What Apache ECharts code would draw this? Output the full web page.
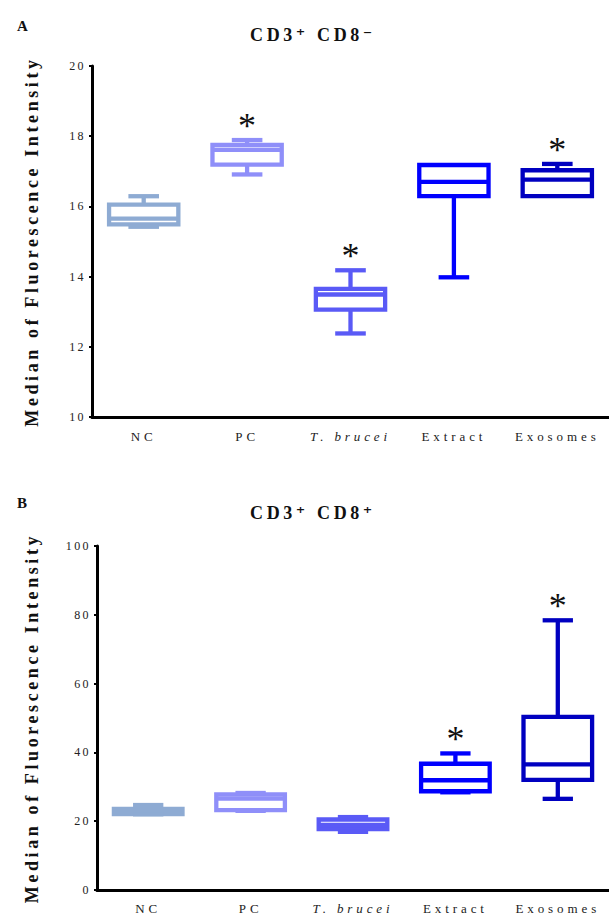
<!DOCTYPE html>
<html>
<head>
<meta charset="utf-8">
<script src="https://cdn.jsdelivr.net/npm/echarts@6/dist/echarts.min.js"></script>
<style>
  html, body { margin: 0; padding: 0; background: #fff; }
  #chart { width: 609px; height: 916px; }
  /* serif face with wide tracking, as in the typeset figure */
  #chart text { font-family: 'Liberation Serif', 'DejaVu Serif', serif !important; letter-spacing: 0.2em; }
  #chart text[style*="13px"] { letter-spacing: 0.3em; }
  #chart text[style*="36px"] { letter-spacing: 0; }
</style>
</head>
<body>
<div id="chart"></div>
<script>
// Groups on the x axis
const categories = ['NC', 'PC', 'T. brucei', 'Extract', 'Exosomes'];

// CD3+ CD8- : [min, Q1, median, Q3, max] per group
const cd8negStats = [
  [15.42, 15.49, 15.65, 16.05, 16.29],
  [16.91, 17.19, 17.61, 17.75, 17.89],
  [12.38, 13.06, 13.49, 13.65, 14.18],
  [13.98, 16.29, 16.70, 17.18, 17.18],
  [16.29, 16.29, 16.76, 17.03, 17.21]
];
const cd8negSignificant = [false, true, true, false, true];

// CD3+ CD8+ : [min, Q1, median, Q3, max] per group
const cd8posStats = [
  [22.0, 22.1, 22.8, 23.6, 24.7],
  [23.0, 23.2, 26.6, 27.8, 28.2],
  [16.9, 17.7, 18.9, 20.5, 21.2],
  [28.4, 28.7, 31.9, 36.7, 39.7],
  [26.5, 32.0, 36.5, 50.3, 78.4]
];
const cd8posSignificant = [false, false, false, true, true];

// y axis ticks
const cd8negTicks = { min: 10, max: 20, interval: 2 };
const cd8posTicks = { min: 0, max: 100, interval: 20 };

const groupColors = ['#8eabd3', '#8f8ff9', '#5a5af6', '#0000fe', '#0000c0'];

const SERIF = 'Liberation Serif';
const LW = 4.3;

function toRows(stats, sig) {
  return stats.map((s, i) => [i, s[0], s[1], s[2], s[3], s[4], sig[i] ? 1 : 0]);
}

function renderBox(params, api) {
  const i = api.value(0);
  const mn = api.value(1), q1 = api.value(2), md = api.value(3), q3 = api.value(4), mx = api.value(5);
  const sig = api.value(6);
  const band = api.size([1, 0])[0];
  const halfBox = band * 0.335;
  const halfCap = band * 0.148;
  const x = api.coord([i, md])[0];
  const yMin = api.coord([i, mn])[1];
  const yQ1 = api.coord([i, q1])[1];
  const yMd = api.coord([i, md])[1];
  const yQ3 = api.coord([i, q3])[1];
  const yMax = api.coord([i, mx])[1];
  const color = groupColors[i];
  const ls = { stroke: color, lineWidth: LW, fill: null };
  const children = [
    { type: 'line', shape: { x1: x, y1: yQ3, x2: x, y2: yMax }, style: ls },
    { type: 'line', shape: { x1: x, y1: yQ1, x2: x, y2: yMin }, style: ls },
    { type: 'rect', shape: { x: x - halfBox, y: yQ3, width: 2 * halfBox, height: yQ1 - yQ3 },
      style: { stroke: color, lineWidth: LW, fill: '#fff' } },
    { type: 'line', shape: { x1: x - halfBox, y1: yMd, x2: x + halfBox, y2: yMd }, style: ls }
  ];
  if (mx > q3) children.push({ type: 'line', shape: { x1: x - halfCap, y1: yMax, x2: x + halfCap, y2: yMax }, style: ls });
  if (mn < q1) children.push({ type: 'line', shape: { x1: x - halfCap, y1: yMin, x2: x + halfCap, y2: yMin }, style: ls });
  if (sig) {
    // significance mark above the upper whisker
    children.push({
      type: 'text', x: x, y: yMax - 14,
      style: { text: '*', fontSize: 36, fontFamily: SERIF, fill: '#111', align: 'center', verticalAlign: 'middle' }
    });
  }
  return { type: 'group', children: children };
}

function xAxisFor(gridIndex, margin) {
  return {
    type: 'category', gridIndex: gridIndex, data: categories, boundaryGap: true,
    axisLine: { lineStyle: { color: '#000', width: 3 } },
    axisTick: { alignWithLabel: true, length: 3, lineStyle: { color: '#000', width: 2.5 } },
    axisLabel: {
      margin: margin, fontSize: 13, fontFamily: SERIF, color: '#222',
      formatter: v => v === 'T. brucei' ? '{i|' + v + '}' : v,
      rich: { i: { fontSize: 13, fontFamily: SERIF, fontStyle: 'italic', color: '#222' } }
    },
    splitLine: { show: false }
  };
}

function yAxisFor(gridIndex, ticks, nameGap) {
  return {
    type: 'value', gridIndex: gridIndex, min: ticks.min, max: ticks.max, interval: ticks.interval,
    name: 'Median of Fluorescence Intensity', nameLocation: 'middle', nameGap: nameGap,
    nameTextStyle: { fontSize: 18, fontWeight: 'bold', fontFamily: SERIF, color: '#111' },
    axisLine: { show: true, lineStyle: { color: '#000', width: 3 } },
    axisTick: { show: true, length: 3, lineStyle: { color: '#000', width: 2 } },
    axisLabel: { margin: 6, fontSize: 12, fontFamily: SERIF, color: '#222' },
    splitLine: { show: false }
  };
}

function titleFor(text, top) {
  return {
    text: text, left: 308, top: top, textAlign: 'center',
    textStyle: { fontSize: 18, fontWeight: 'bold', fontFamily: SERIF, color: '#111' }
  };
}

const chart = echarts.init(document.getElementById('chart'), null, { renderer: 'svg' });
chart.setOption({
  backgroundColor: '#fff',
  animation: false,
  title: [
    { text: 'A', left: 12, top: 13, textStyle: { fontSize: 15, fontWeight: 'bold', fontFamily: SERIF, color: '#111' } },
    { text: 'B', left: 12, top: 490, textStyle: { fontSize: 15, fontWeight: 'bold', fontFamily: SERIF, color: '#111' } },
    titleFor('CD3\u207A CD8\u207B', 21),
    titleFor('CD3\u207A CD8\u207A', 499)
  ],
  grid: [
    { left: 92, top: 66, width: 525, height: 351 },
    { left: 97, top: 546, width: 517, height: 344 }
  ],
  xAxis: [xAxisFor(0, 13), xAxisFor(1, 12)],
  yAxis: [yAxisFor(0, cd8negTicks, 51), yAxisFor(1, cd8posTicks, 56)],
  series: [
    { type: 'custom', xAxisIndex: 0, yAxisIndex: 0, renderItem: renderBox,
      encode: { x: 0, y: [1, 2, 3, 4, 5] }, data: toRows(cd8negStats, cd8negSignificant) },
    { type: 'custom', xAxisIndex: 1, yAxisIndex: 1, renderItem: renderBox,
      encode: { x: 0, y: [1, 2, 3, 4, 5] }, data: toRows(cd8posStats, cd8posSignificant) }
  ]
});
</script>
</body>
</html>
